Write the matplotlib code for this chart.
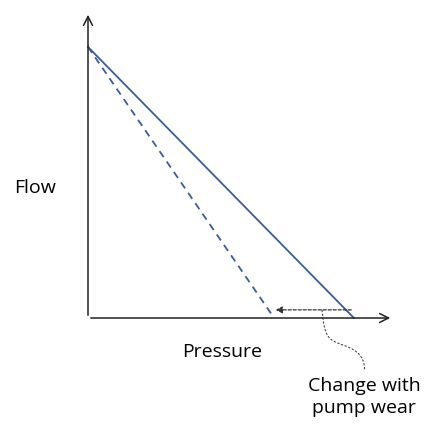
import matplotlib.pyplot as plt
from matplotlib.path import Path
from matplotlib.patches import PathPatch

# pump curves (relative flow vs relative pressure)
pressure_new = [0.0, 1.0]
flow_new = [1.0, 0.0]
pressure_worn = [0.0, 0.7]
flow_worn = [1.0, 0.0]

blue = '#3B5B9A'
plt.rcParams['font.family'] = ['Open Sans', 'DejaVu Sans']

fig = plt.figure(figsize=(4.25, 4.26), dpi=100)
ax = fig.add_axes([88 / 425, 108 / 426, 305 / 425, 306 / 426])
ax.set_xlim(0, 1.147)
ax.set_ylim(0, 1.129)
ax.axis('off')

# axes with arrow heads
ax.annotate('', xy=(1.147, 0), xytext=(0, 0),
            arrowprops=dict(arrowstyle='->', color='#222222', lw=1.1, mutation_scale=16),
            annotation_clip=False)
ax.annotate('', xy=(0, 1.129), xytext=(0, 0),
            arrowprops=dict(arrowstyle='->', color='#222222', lw=1.1, mutation_scale=16),
            annotation_clip=False)

ax.plot(pressure_new, flow_new, color=blue, lw=1.3, clip_on=False)
ax.plot(pressure_worn, flow_worn, color=blue, lw=1.3, ls=(0, (4, 3)), clip_on=False)

# shift arrow
ax.annotate('', xy=(pressure_worn[1] + 0.005, 0.03), xytext=(0.99, 0.03),
            arrowprops=dict(arrowstyle='-|>', color='#333333', lw=0.9, ls=(0, (2.5, 1.5)),
                            mutation_scale=10, shrinkA=0, shrinkB=0))

# squiggly leader to the label
verts = [(0.88, 0.03), (0.89, -0.07), (0.90, -0.08), (0.96, -0.10),
         (1.02, -0.12), (1.04, -0.15), (1.04, -0.19)]
codes = [Path.MOVETO, Path.CURVE4, Path.CURVE4, Path.CURVE4,
         Path.CURVE4, Path.CURVE4, Path.CURVE4]
ax.add_patch(PathPatch(Path(verts, codes), fill=False, ec='#444444', lw=0.8,
                       ls=(0, (2, 1.5)), clip_on=False))

fig.text(35 / 425, 1 - 188 / 426, 'Flow', ha='center', va='center', fontsize=14)
fig.text(222 / 425, 1 - 352 / 426, 'Pressure', ha='center', va='center', fontsize=14)
fig.text(364 / 425, 1 - 397 / 426, 'Change with\npump wear', ha='center', va='center',
         fontsize=14, linespacing=1.35)

fig.savefig('out.png', dpi=100)
